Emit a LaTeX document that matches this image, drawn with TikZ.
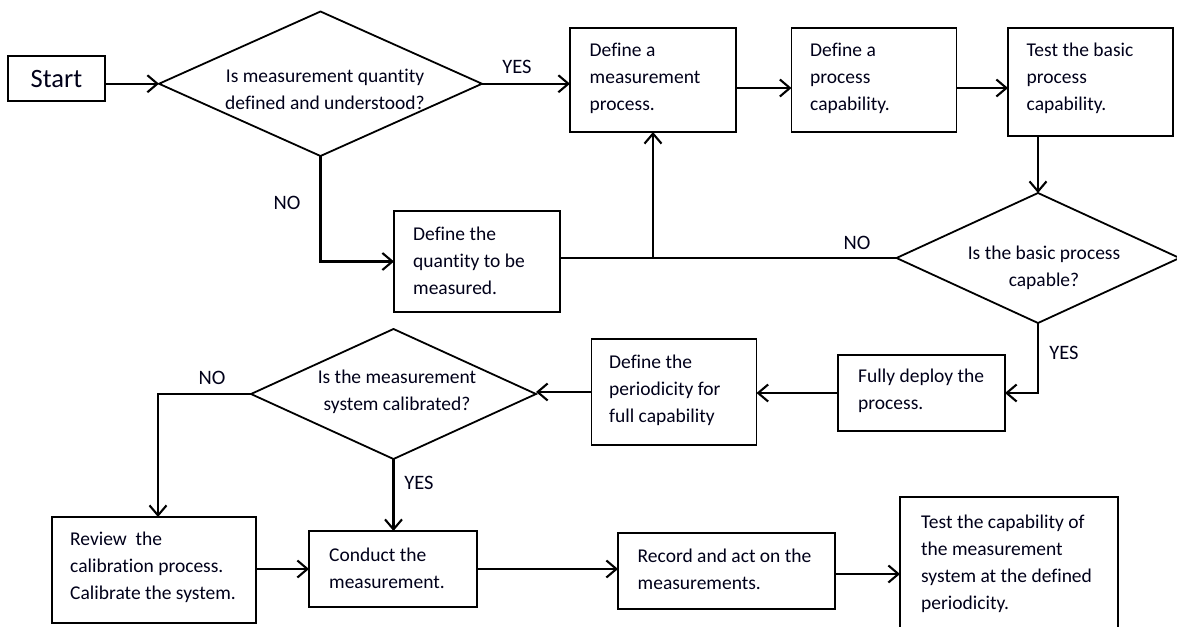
\documentclass[tikz,border=0pt]{standalone}
\usepackage{fontspec}
\setmainfont{Carlito}[Ligatures=NoCommon]
\usetikzlibrary{arrows.meta,shapes.geometric}
\begin{document}
\begin{tikzpicture}[x=1pt,y=-1pt,
  every node/.style={font=\fontsize{19.5}{27}\selectfont, text=black!90!blue},
  box/.style={draw=black, line width=1.8pt, inner sep=0pt, outer sep=0pt},
  txt/.style={anchor=west, align=left, inner sep=0pt},
  decision/.style={draw=black, diamond, line width=1.8pt, inner sep=0pt, outer sep=0pt},
  link/.style={line width=2.1pt},
  arr/.style={link, -{Straight Barb[length=10pt,width=17pt,line width=2.1pt]}},
  lbl/.style={font=\fontsize{20.5}{24}\selectfont}
]
\useasboundingbox (0,0) rectangle (1177,626);

% process boxes
\node[box, minimum width=97pt, minimum height=45pt,
      font=\fontsize{26.5}{30}\selectfont] (start) at (56.5,78.5) {Start};
\node[box, minimum width=166pt, minimum height=104pt] (defmp) at (653,80) {};
\node[txt] (defmpt) at ([xshift=19.5pt,yshift=2pt]defmp.west) {Define a\\measurement\\process.};
\node[box, minimum width=165pt, minimum height=104pt] (defpc) at (874,80) {};
\node[txt] (defpct) at ([xshift=18.5pt,yshift=2pt]defpc.west) {Define a\\process\\capability.};
\node[box, minimum width=165pt, minimum height=108pt] (testb) at (1090.5,82) {};
\node[txt] (testbt) at ([xshift=18.5pt,yshift=4pt]testb.west) {Test the basic\\process\\capability.};
\node[box, minimum width=166pt, minimum height=101pt] (defq) at (477,261.5) {};
\node[txt] (defqt) at ([xshift=19pt,yshift=1pt]defq.west) {Define the\\quantity to be\\measured.};
\node[box, minimum width=165pt, minimum height=106pt] (period) at (674,392) {};
\node[txt] (periodt) at ([xshift=17.5pt,yshift=2pt]period.west) {Define the\\periodicity for\\full capability};
\node[box, minimum width=167pt, minimum height=76pt] (deploy) at (921.5,393) {};
\node[txt] (deployt) at ([xshift=20pt,yshift=2pt]deploy.west) {Fully deploy the\\process.};
\node[box, minimum width=204pt, minimum height=106pt] (review) at (154,570) {};
\node[txt] (reviewt) at ([xshift=18pt,yshift=3pt]review.west) {Review\ \ the\\calibration process.\\Calibrate the system.};
\node[box, minimum width=168pt, minimum height=76pt] (conduct) at (393,569) {};
\node[txt] (conductt) at ([xshift=20pt,yshift=1pt]conduct.west) {Conduct the\\measurement.};
\node[box, minimum width=217pt, minimum height=76pt] (record) at (726.5,571) {};
\node[txt] (recordt) at ([xshift=19.5pt,yshift=2pt]record.west) {Record and act on the\\measurements.};
\node[box, minimum width=218pt, minimum height=134pt] (testc) at (1009,564) {};
\node[txt] (testct) at ([xshift=21pt]testc.west) {Test the capability of\\the measurement\\system at the defined\\periodicity.};

% decisions
\node[decision, minimum width=323pt, minimum height=144.5pt] (d1) at (320.5,83.75) {};
\node[align=center] (d1text) at (325,89.5) {Is measurement quantity\\defined and understood?};
\node[decision, minimum width=283pt, minimum height=130pt] (d2) at (1038,258) {};
\node[align=center] (d2text) at (1044,268) {Is the basic process\\capable?};
\node[decision, minimum width=285pt, minimum height=130pt] (d3) at (393.5,394) {};
\node[align=center] (d3text) at (397,391.5) {Is the measurement\\system calibrated?};

% branch labels
\node[lbl] (yes1) at (517,67) {YES};
\node[lbl] (no1) at (287,203) {NO};
\node[lbl] (no2) at (857,243) {NO};
\node[lbl] (yes2) at (1064,353) {YES};
\node[lbl] (no3) at (212,378) {NO};
\node[lbl] (yes3) at (419,483) {YES};

% connectors
\draw[arr] (start.east |- d1.west) -- (d1.west);
\draw[arr] (d1.east) -- (d1.east -| defmp.west);
\coordinate (m1) at ([yshift=-8pt]defmp.east);
\draw[arr] (m1) -- (m1 -| defpc.west);
\coordinate (m2) at ([yshift=-8pt]defpc.east);
\draw[arr] (m2) -- (m2 -| testb.west);
\draw[arr] (testb.south -| d2.north) -- (d2.north);
\draw[link] (d2.west) -- (d2.west -| defq.east);
\draw[arr] (defmp.south |- d2.west) -- (defmp.south);
\draw[arr] (d1.south) |- (defq.west);
\draw[arr] (d2.south) |- (deploy.east);
\draw[arr] (deploy.west) -- (deploy.west -| period.east);
\draw[arr] (period.west) -- (period.west -| d3.east);
\draw[arr] (d3.west) -| ([xshift=4pt]review.north);
\draw[arr] (d3.south) -- (d3.south |- conduct.north);
\draw[arr] (review.east |- conduct.west) -- (conduct.west);
\draw[arr] (conduct.east) -- (conduct.east -| record.west);
\coordinate (m3) at ([yshift=-3pt]record.east);
\draw[arr] (m3) -- (m3 -| testc.west);
\end{tikzpicture}
\end{document}
